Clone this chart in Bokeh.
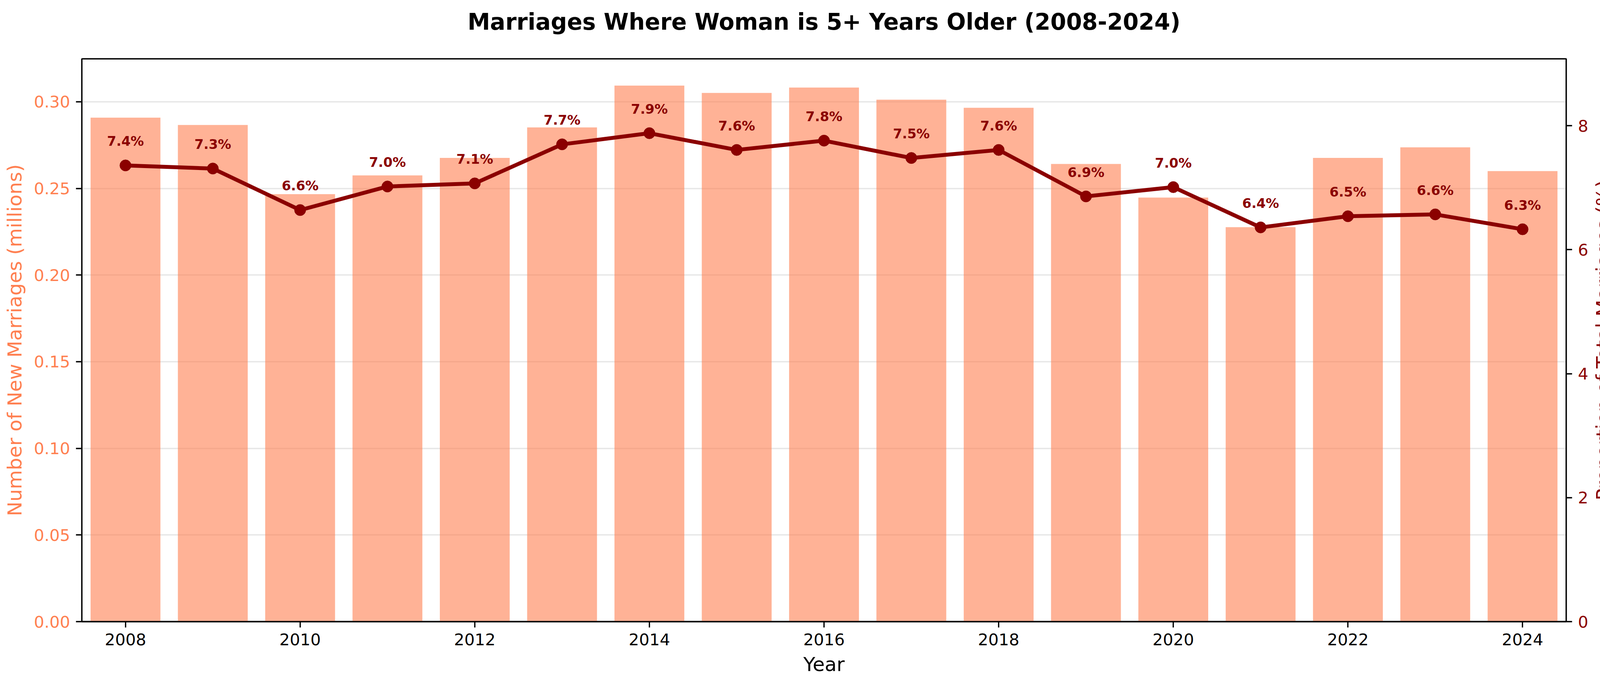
import math
from bokeh.plotting import figure
from bokeh.models import (Range1d, LinearAxis, FixedTicker, NumeralTickFormatter,
                          ColumnDataSource, LabelSet, Label)
from bokeh.core.properties import value
from bokeh.embed import file_html
from bokeh.resources import INLINE

# ---- data ----
years = [2008, 2009, 2010, 2011, 2012, 2013, 2014, 2015, 2016,
         2017, 2018, 2019, 2020, 2021, 2022, 2023, 2024]
marriages_millions = [0.2908, 0.2866, 0.2467, 0.2575, 0.2676, 0.2852, 0.3093, 0.3051, 0.3082,
                      0.3012, 0.2965, 0.2641, 0.2447, 0.2276, 0.2676, 0.2737, 0.2600]
proportion_pct = [7.36, 7.31, 6.64, 7.02, 7.07, 7.70, 7.88, 7.61, 7.76,
                  7.48, 7.61, 6.86, 7.01, 6.36, 6.54, 6.57, 6.33]
x_ticks = [2008, 2010, 2012, 2014, 2016, 2018, 2020, 2022, 2024]
left_ticks = [0.0, 0.05, 0.10, 0.15, 0.20, 0.25, 0.30]
right_ticks = [0, 2, 4, 6, 8]

title_text = "Marriages Where Woman is 5+ Years Older (2008-2024)"
xlabel = "Year"
ylabel_left = "Number of New Marriages (millions)"
ylabel_right = "Proportion of Total Marriages (%)"

labels = [f"{v:.1f}%" for v in proportion_pct]
src = ColumnDataSource(dict(year=years, count=marriages_millions,
                            pct=proportion_pct, label=labels))

FONT = "DejaVu Sans"
CORAL = "#FF7F50"
DARKRED = "#8B0000"
LW = 3.3
# keep the page a little smaller than the window so no scrollbar appears
W, H = 4140, 1740
BL, BR, BT, BB = 209, 131, 150, 150
FW = W - BL - BR

x_lo, x_hi = 2007.5, 2024.5
y_hi = max(marriages_millions) * 1.05

p = figure(width=W, height=H, title=None,
           x_range=Range1d(x_lo, x_hi),
           y_range=Range1d(0, y_hi),
           output_backend="svg", toolbar_location=None,
           min_border_left=BL, min_border_right=BR,
           min_border_top=BT, min_border_bottom=BB)
p.extra_y_ranges = {"pct": Range1d(0, 9.08)}

p.outline_line_color = "black"
p.outline_line_width = LW
p.background_fill_color = "white"
p.border_fill_color = "white"

# grid
p.xgrid.grid_line_color = None
p.ygrid.ticker = FixedTicker(ticks=left_ticks)
p.ygrid.grid_line_color = "#b0b0b0"
p.ygrid.grid_line_alpha = 0.3
p.ygrid.grid_line_width = LW

# bars
p.vbar(x="year", top="count", width=0.8, source=src,
       fill_color=CORAL, fill_alpha=0.6, line_color=None)

# line + markers
p.line(x="year", y="pct", source=src, y_range_name="pct",
       line_color=DARKRED, line_width=10)
p.scatter(x="year", y="pct", source=src, y_range_name="pct",
          size=29, fill_color=DARKRED, line_color=DARKRED)

lbl = LabelSet(x="year", y="pct", text="label", source=src, y_range_name="pct",
               y_offset=42, text_align="center", text_baseline="bottom",
               text_font=value(FONT), text_font_size=value("34px"),
               text_font_style="bold", text_color=DARKRED)
p.add_layout(lbl)

def style_axis(ax, color, label_color):
    ax.axis_line_color = "black"
    ax.axis_line_width = LW
    ax.major_tick_line_color = "black"
    ax.major_tick_line_width = LW
    ax.major_tick_out = 15
    ax.major_tick_in = 0
    ax.minor_tick_line_color = None
    ax.major_label_standoff = 15
    ax.major_label_text_font = FONT
    ax.major_label_text_font_size = "41.7px"
    ax.major_label_text_color = color
    ax.axis_label_text_font = FONT
    ax.axis_label_text_font_size = "50px"
    ax.axis_label_text_font_style = "normal"
    ax.axis_label_text_color = label_color
    ax.axis_label_standoff = 17

# x axis
xa = p.xaxis[0]
xa.ticker = FixedTicker(ticks=x_ticks)
xa.axis_label = xlabel
style_axis(xa, "black", "black")

# left axis
ya = p.yaxis[0]
ya.ticker = FixedTicker(ticks=left_ticks)
ya.formatter = NumeralTickFormatter(format="0.00")
ya.axis_label = ylabel_left
style_axis(ya, CORAL, CORAL)

# right axis (label drawn separately so it reads bottom-to-top)
ra = LinearAxis(y_range_name="pct", ticker=FixedTicker(ticks=right_ticks))
style_axis(ra, DARKRED, DARKRED)
p.add_layout(ra, "right")

# right-axis label: ~95 px right of the frame, vertically centred (data units)
px_per_year = FW / (x_hi - x_lo)
right_label = Label(x=x_hi + 95 / px_per_year, y=y_hi / 2,
                    text=ylabel_right, angle=math.pi / 2,
                    text_align="center", text_baseline="middle",
                    text_font=FONT, text_font_size="50px", text_color=DARKRED)
p.add_layout(right_label, "right")

title_label = Label(x=FW / 2, y=95, x_units="screen", y_units="screen",
                    text=title_text, text_align="center", text_baseline="alphabetic",
                    text_font=FONT, text_font_size="58px", text_font_style="bold",
                    text_color="black")
p.add_layout(title_label, "above")

open("out.html", "w").write(file_html(p, INLINE))
